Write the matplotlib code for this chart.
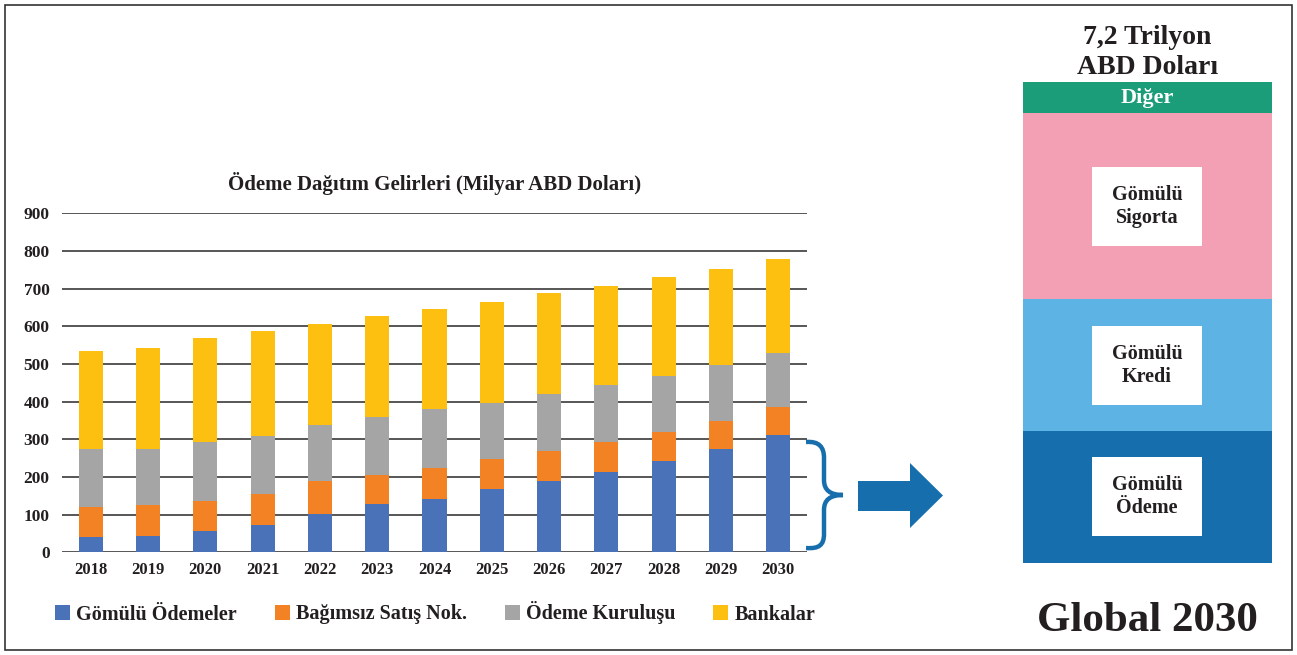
import matplotlib
matplotlib.use("Agg")
import matplotlib.pyplot as plt
from matplotlib.patches import Rectangle, Polygon, PathPatch
from matplotlib.path import Path
import numpy as np

plt.rcParams['font.family'] = ['Liberation Serif', 'DejaVu Serif']
plt.rcParams['font.weight'] = 'bold'

years = ['2018', '2019', '2020', '2021', '2022', '2023', '2024',
         '2025', '2026', '2027', '2028', '2029', '2030']
gomulu_odemeler = [41, 44, 57, 73, 103, 129, 142, 168, 189, 213, 242, 273, 312]
bagimsiz_satis = [79, 82, 79, 83, 85, 76, 83, 80, 80, 81, 78, 76, 74]
odeme_kurulusu = [153, 147, 158, 154, 150, 154, 156, 148, 152, 149, 149, 147, 143]
bankalar = [262, 270, 275, 278, 268, 268, 265, 269, 267, 264, 262, 256, 250]
series_names = ['Gömülü Ödemeler', 'Bağımsız Satış Nok.', 'Ödeme Kuruluşu', 'Bankalar']
series_colors = ['#4a72b8', '#f28224', '#a5a5a5', '#fdc010']
y_ticks = [0, 100, 200, 300, 400, 500, 600, 700, 800, 900]

panel_labels = ['Diğer', 'Gömülü\nSigorta', 'Gömülü\nKredi', 'Gömülü\nÖdeme']
panel_colors = ['#1c9d79', '#f3a0b4', '#5db4e4', '#176ead']

W, H = 1297, 655
fig = plt.figure(figsize=(W / 100, H / 100), dpi=100)

# overlay in pixel coordinates
ov = fig.add_axes([0, 0, 1, 1], zorder=0)
ov.set_xlim(0, W)
ov.set_ylim(H, 0)
ov.axis('off')

# chart axes
x0, x1, ytop, ybot = 62, 807, 213.3, 552.3
ax = fig.add_axes([x0 / W, (H - ybot) / H, (x1 - x0) / W, (ybot - ytop) / H], zorder=2)
ax.patch.set_alpha(0)
x = np.arange(len(years))
bottom = np.zeros(len(years))
handles = []
for vals, name, col in zip([gomulu_odemeler, bagimsiz_satis, odeme_kurulusu, bankalar],
                           series_names, series_colors):
    h = ax.bar(x, vals, width=0.42, bottom=bottom, color=col, label=name, zorder=3)
    handles.append(h)
    bottom = bottom + np.array(vals)
ax.set_xlim(-0.5, len(years) - 0.5)
ax.set_ylim(0, 900)
ax.set_yticks(y_ticks)
ax.set_xticks(x)
ax.set_xticklabels(years)
for sp in ax.spines.values():
    sp.set_visible(False)
ax.grid(axis='y', color='#3a3a3a', linewidth=1.2, zorder=1)
ax.tick_params(axis='both', length=0)
ax.tick_params(axis='y', pad=9, labelsize=12.5)
ax.tick_params(axis='x', pad=7, labelsize=12)
ax.set_title('Ödeme Dağıtım Gelirleri (Milyar ABD Doları)', fontsize=15,
             fontweight='bold', pad=17, color='#231f20')
ax.tick_params(labelcolor='#231f20')

leg = fig.legend(handles=handles, labels=series_names, loc='center left',
                 bbox_to_anchor=(47 / W, 1 - 613 / H), ncol=4, frameon=False,
                 fontsize=14.5, handlelength=0.75, handleheight=0.75,
                 handletextpad=0.3, columnspacing=1.88, borderaxespad=0)
for t in leg.get_texts():
    t.set_color('#231f20')

# border
ov.add_patch(Rectangle((5, 5), 1287, 645, fill=False, edgecolor='#333333', lw=1.2))

# brace
verts = [(806, 442), (819, 441), (824, 447), (824, 458),
         (824, 480),
         (824, 490), (830, 495), (843, 495),
         (830, 495), (824, 500), (824, 510),
         (824, 534),
         (824, 545), (819, 549), (806, 548)]
codes = [Path.MOVETO, Path.CURVE4, Path.CURVE4, Path.CURVE4,
         Path.LINETO,
         Path.CURVE4, Path.CURVE4, Path.CURVE4,
         Path.CURVE4, Path.CURVE4, Path.CURVE4,
         Path.LINETO,
         Path.CURVE4, Path.CURVE4, Path.CURVE4]
ov.add_patch(PathPatch(Path(verts, codes), fill=False, edgecolor='#176ead', lw=3.2,
                       capstyle='butt'))

# arrow
ov.add_patch(Polygon([(858, 481), (910, 481), (910, 463), (943, 495.5),
                      (910, 528), (910, 511), (858, 511)], closed=True,
                     facecolor='#176ead', edgecolor='none'))

# right stacked panel
px0, px1 = 1023, 1272
bounds = [82, 113, 299, 431, 563]
for i, col in enumerate(panel_colors):
    ov.add_patch(Rectangle((px0, bounds[i]), px1 - px0, bounds[i + 1] - bounds[i],
                           facecolor=col, edgecolor='none'))
cx = (px0 + px1) / 2
ov.text(cx, 97.5, panel_labels[0], color='white', fontsize=16, fontweight='bold',
        ha='center', va='center')
boxes = [(167, 246), (326, 405), (457, 536)]
for lab, (b0, b1) in zip(panel_labels[1:], boxes):
    ov.add_patch(Rectangle((1092, b0), 110, b1 - b0, facecolor='white', edgecolor='none'))
    ov.text(1147, (b0 + b1) / 2, lab, fontsize=14.5, fontweight='bold', ha='center',
            va='center', linespacing=1.15, color='#231f20')

ov.text(cx, 52.5, '7,2 Trilyon\nABD Doları', fontsize=20, fontweight='bold',
        ha='center', va='center', linespacing=1.3, color='#231f20')
ov.text(cx, 621, 'Global 2030', fontsize=31, fontweight='bold',
        ha='center', va='center', color='#231f20')

fig.savefig('out.png', dpi=100)
